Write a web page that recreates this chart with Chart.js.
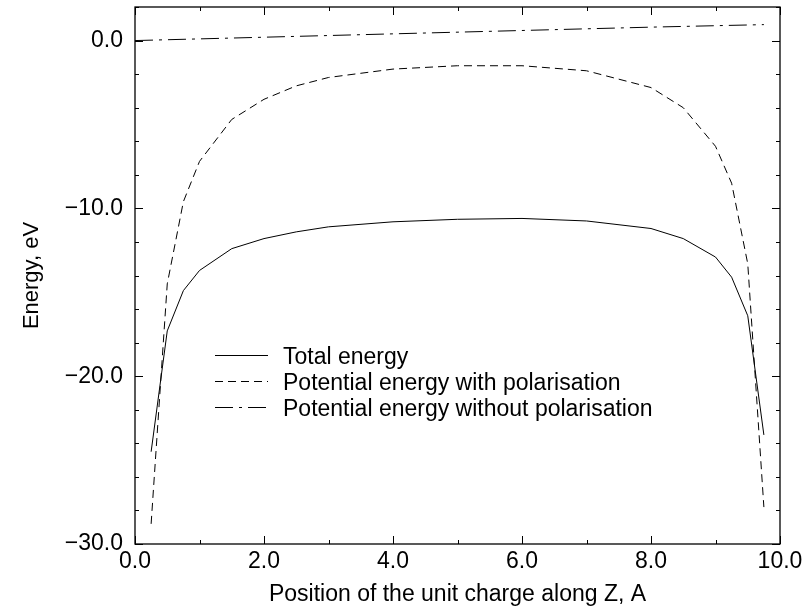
<!DOCTYPE html>
<html>
<head>
<meta charset="utf-8">
<script src="https://cdn.jsdelivr.net/npm/chart.js@4.4.1/dist/chart.umd.min.js"></script>
<style>
  html, body { margin: 0; padding: 0; background: #fff; }
  #wrap { width: 804px; height: 612px; }
</style>
</head>
<body>
<div id="wrap"><canvas id="c" width="804" height="612"></canvas></div>
<script>
// ---- data ----
const positions = [0.25, 0.5, 0.75, 1.0, 1.5, 2.0, 2.5, 3.0, 4.0, 5.0, 6.0, 7.0, 8.0, 8.5, 9.0, 9.25, 9.5, 9.75];
const totalEnergy = [-24.5, -17.3, -14.9, -13.7, -12.4, -11.8, -11.4, -11.1, -10.8, -10.65, -10.6, -10.75, -11.2, -11.8, -12.9, -14.1, -16.4, -23.5];
const potentialWithPol = [-28.8, -14.5, -9.6, -7.2, -4.7, -3.5, -2.7, -2.2, -1.7, -1.5, -1.5, -1.8, -2.8, -4.0, -6.3, -8.5, -13.3, -27.8];
const noPolPositions = [0.0, 2.0, 4.0, 6.0, 8.0, 9.75];
const potentialWithoutPol = [0.0, 0.2, 0.4, 0.6, 0.8, 0.95];
const seriesLabels = ['Total energy', 'Potential energy with polarisation', 'Potential energy without polarisation'];
const xTickLabels = ['0.0', '2.0', '4.0', '6.0', '8.0', '10.0'];
const yTickLabels = ['0.0', '\u221210.0', '\u221220.0', '\u221230.0'];
const xTitle = 'Position of the unit charge along Z, A';
const yTitle = 'Energy, eV';

const FONT = '"Liberation Sans", Arial, Helvetica, sans-serif';
const FS = 23;

function pts(xs, ys) { return xs.map((x, i) => ({ x: x, y: ys[i] })); }

const dashStyles = [[], [8, 5], [18, 6, 3, 6]];

function noPad(s) { s.paddingTop = 0; s.paddingBottom = 0; s.paddingLeft = 0; s.paddingRight = 0; }

const framePlugin = {
  id: 'frame',
  afterDraw(chart) {
    const ctx = chart.ctx;
    const a = chart.chartArea;
    const xs = chart.scales.x, ys = chart.scales.y;
    ctx.save();
    ctx.strokeStyle = '#000';
    ctx.lineWidth = 1.3;
    ctx.setLineDash([]);
    ctx.strokeRect(a.left, a.top, a.right - a.left, a.bottom - a.top);
    ctx.lineWidth = 1;
    for (let v = 0; v <= 10; v += 1) {
      const px = Math.round(xs.getPixelForValue(v)) + 0.5;
      const len = (v % 2 === 0) ? 8 : 4;
      ctx.beginPath();
      ctx.moveTo(px, a.bottom); ctx.lineTo(px, a.bottom - len);
      ctx.moveTo(px, a.top); ctx.lineTo(px, a.top + len);
      ctx.stroke();
    }
    for (let v = -30; v <= 2; v += 2) {
      const py = Math.round(ys.getPixelForValue(v)) + 0.5;
      const len = (v % 10 === 0) ? 8 : 4;
      ctx.beginPath();
      ctx.moveTo(a.left, py); ctx.lineTo(a.left + len, py);
      ctx.moveTo(a.right, py); ctx.lineTo(a.right - len, py);
      ctx.stroke();
    }
    // legend inside plot
    ctx.font = FS + 'px ' + FONT;
    ctx.fillStyle = '#000';
    ctx.textBaseline = 'alphabetic';
    ctx.textAlign = 'left';
    const lx0 = 215, lx1 = 268, tx = 283, ly0 = 355, dy = 26;
    chart.data.datasets.forEach((ds, i) => {
      const y = ly0 + i * dy + 0.5;
      ctx.setLineDash(ds.borderDash || []);
      ctx.lineWidth = 1;
      ctx.beginPath(); ctx.moveTo(lx0, y); ctx.lineTo(lx1, y); ctx.stroke();
      ctx.setLineDash([]);
      ctx.fillText(ds.label, tx, y + 8);
    });
    // axis titles
    ctx.textAlign = 'center';
    ctx.fillText(xTitle, (a.left + a.right) / 2, 601);
    ctx.save();
    ctx.font = '22px ' + FONT;
    ctx.translate(38, (a.top + a.bottom) / 2);
    ctx.rotate(-Math.PI / 2);
    ctx.fillText(yTitle, 0, 0);
    ctx.restore();
    ctx.restore();
  }
};

new Chart(document.getElementById('c'), {
  type: 'scatter',
  data: {
    datasets: [
      { label: seriesLabels[0], data: pts(positions, totalEnergy), borderDash: dashStyles[0] },
      { label: seriesLabels[1], data: pts(positions, potentialWithPol), borderDash: dashStyles[1] },
      { label: seriesLabels[2], data: pts(noPolPositions, potentialWithoutPol), borderDash: dashStyles[2] }
    ].map(d => Object.assign(d, {
      showLine: true, borderColor: '#000', backgroundColor: '#000', borderWidth: 1,
      pointRadius: 0, tension: 0, fill: false
    }))
  },
  options: {
    responsive: false,
    animation: false,
    devicePixelRatio: 1,
    layout: { padding: { top: 7, right: 24, left: 0, bottom: 0 } },
    plugins: { legend: { display: false }, tooltip: { enabled: false } },
    scales: {
      x: {
        type: 'linear', min: 0, max: 10,
        grid: { display: false, drawTicks: false },
        border: { display: false },
        ticks: {
          stepSize: 2, autoSkip: false, maxRotation: 0, padding: 4,
          color: '#000', font: { family: FONT, size: FS },
          callback: (v) => xTickLabels[v / 2] || ''
        },
        afterFit: (s) => { s.height = 68; noPad(s); }
      },
      y: {
        type: 'linear', min: -30, max: 2,
        grid: { display: false, drawTicks: false },
        border: { display: false },
        ticks: {
          stepSize: 10, autoSkip: false, padding: 12,
          color: '#000', font: { family: FONT, size: FS },
          callback: (v) => (v <= 0 ? (yTickLabels[-v / 10] || '') : '')
        },
        afterFit: (s) => { s.width = 135; noPad(s); },
        afterBuildTicks: (s) => { s.ticks = [0, -10, -20, -30].map(v => ({ value: v })); }
      }
    }
  },
  plugins: [framePlugin]
});
</script>
</body>
</html>
